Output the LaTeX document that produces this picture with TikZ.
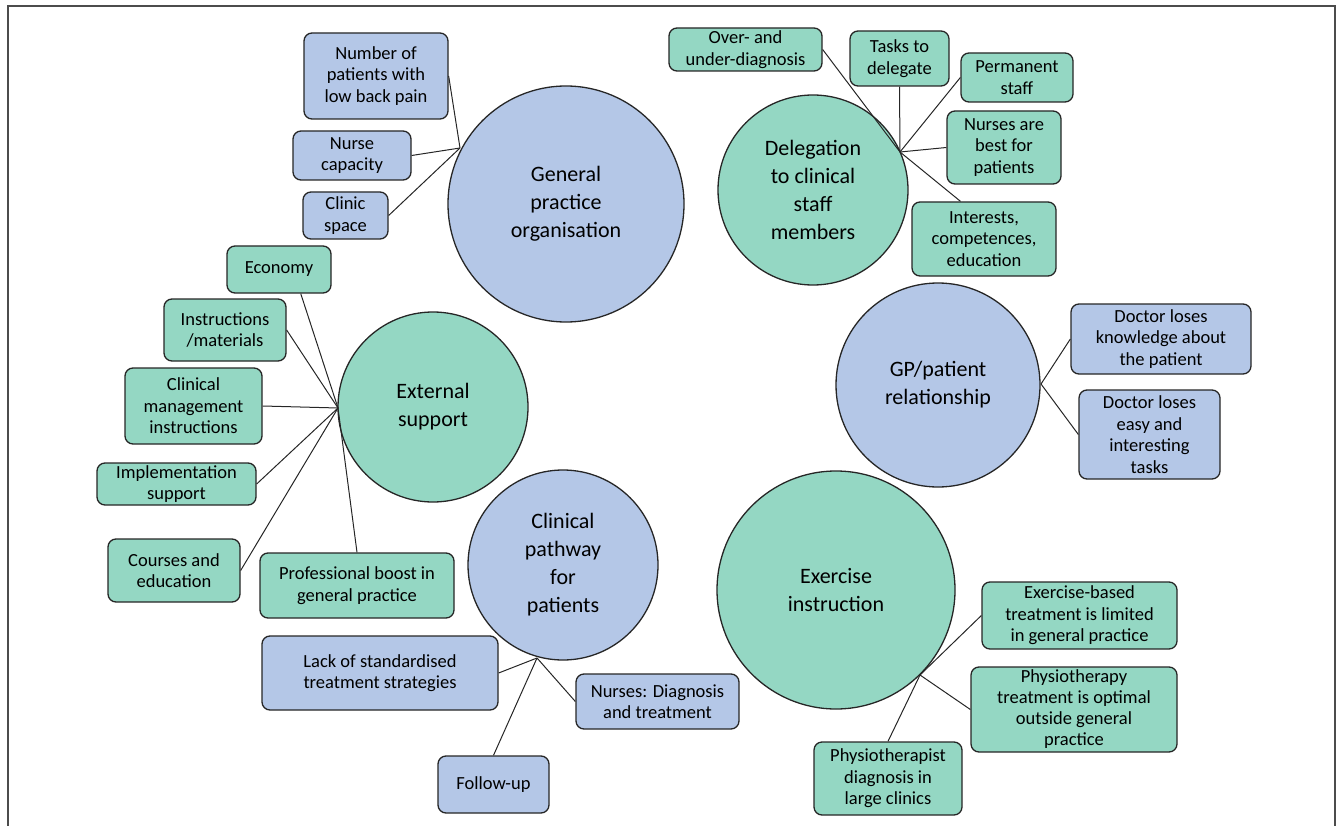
\documentclass[tikz,border=0pt]{standalone}
\usepackage{fontspec}
\setmainfont{Carlito}
\definecolor{topicblue}{HTML}{B4C7E7}
\definecolor{topicgreen}{HTML}{94D7C3}
\definecolor{edgegray}{HTML}{262626}

\begin{document}
\begin{tikzpicture}[x=1pt, y=-1pt,
    item/.style={draw=edgegray, line width=1.3pt, rounded corners=8pt, align=center, inner sep=1pt, font=\fontsize{18.5}{21.5}\selectfont},
    bitem/.style={item, fill=topicblue},
    gitem/.style={item, fill=topicgreen},
    topic/.style={draw=edgegray, line width=1.3pt, circle, align=center, inner sep=0pt, font=\fontsize{22}{28}\selectfont},
    btopic/.style={topic, fill=topicblue},
    gtopic/.style={topic, fill=topicgreen},
    link/.style={draw=edgegray, line width=1pt}
  ]
    \useasboundingbox (0,0) rectangle (1343,826);
    \draw[gray!60!black, line width=1.5pt] (8,826) -- (8,6) -- (1335,6) -- (1335,826);

    % topics
    \node[btopic, minimum size=236pt] (gpo) at (566,204) {General\\practice\\organisation};
    \node[gtopic, minimum size=190pt] (del) at (813,190) {Delegation\\to clinical\\staff\\members};
    \node[gtopic, minimum size=190pt] (ext) at (433,407) {External\\support};
    \node[btopic, minimum size=190pt] (path) at (563,565) {Clinical\\pathway\\for\\patients};
    \node[btopic, minimum size=204pt] (gp) at (938,385) {GP/patient\\relationship};
    \node[gtopic, minimum size=238pt] (exe) at (836,590) {Exercise\\instruction};

    % meeting points on the circles
    \coordinate (gpohub) at (460,148);
    \coordinate (delhub) at (900,152);
    \coordinate (exthub) at (338,408);
    \coordinate (pathhub) at (537,658);
    \coordinate (gphub) at (1041,384);
    \coordinate (exehub) at (920,675);

    % general practice organisation
    \node[bitem, minimum width=144pt, minimum height=86pt] (num) at (376,76) {Number of\\patients with\\low back pain};
    \node[bitem, minimum width=118pt, minimum height=49pt] (ncap) at (352,155.5) {Nurse\\capacity};
    \node[bitem, minimum width=85pt, minimum height=47pt] (space) at (345.5,215.5) {Clinic\\space};

    % delegation
    \node[gitem, minimum width=153pt, minimum height=43pt, inner sep=0pt] (over) at (745.5,49.5) {Over- and\\under-diagnosis};
    \node[gitem, minimum width=99pt, minimum height=55pt] (tasks) at (899.5,58.5) {Tasks to\\delegate};
    \node[gitem, minimum width=112pt, minimum height=49pt] (perm) at (1017,77.5) {Permanent\\staff};
    \node[gitem, minimum width=114pt, minimum height=73pt] (best) at (1004,147.5) {Nurses are\\best for\\patients};
    \node[gitem, minimum width=144pt, minimum height=74pt] (inter) at (984,239) {Interests,\\competences,\\education};

    % external support
    \node[gitem, minimum width=104pt, minimum height=47pt] (econ) at (279,269.5) {Economy};
    \node[gitem, minimum width=122pt, minimum height=62pt] (instr) at (225,330) {Instructions\\/materials};
    \node[gitem, minimum width=137pt, minimum height=76pt] (cmi) at (193.5,406) {Clinical\\management\\instructions};
    \node[gitem, minimum width=159pt, minimum height=42pt, inner sep=0pt] (impl) at (176.5,484) {Implementation\\support};
    \node[gitem, minimum width=132pt, minimum height=63pt] (course) at (174,570.5) {Courses and\\education};
    \node[gitem, minimum width=194pt, minimum height=65pt] (boost) at (357,585.5) {Professional boost in\\general practice};

    % clinical pathway
    \node[bitem, minimum width=236pt, minimum height=74pt] (lack) at (380,673) {Lack of standardised\\treatment strategies};
    \node[bitem, minimum width=163pt, minimum height=55pt] (nurdx) at (657.5,701.5) {Nurses: Diagnosis\\and treatment};
    \node[bitem, minimum width=111pt, minimum height=57pt] (follow) at (493.5,784.5) {Follow-up};

    % GP/patient relationship
    \node[bitem, minimum width=180pt, minimum height=70pt] (know) at (1161,339) {Doctor loses\\knowledge about\\the patient};
    \node[bitem, minimum width=141pt, minimum height=89pt, inner sep=0pt] (easy) at (1149.5,434.5) {Doctor loses\\easy and\\interesting\\tasks};

    % exercise instruction
    \node[gitem, minimum width=195pt, minimum height=67pt, inner sep=0pt] (exb) at (1079.5,615.5) {Exercise-based\\treatment is limited\\in general practice};
    \node[gitem, minimum width=206pt, minimum height=85pt, inner sep=0pt, font=\fontsize{18.5}{21}\selectfont] (phys) at (1074,709.5) {Physiotherapy\\treatment is optimal\\outside general\\practice};
    \node[gitem, minimum width=148pt, minimum height=73pt] (phdx) at (888,778.5) {Physiotherapist\\diagnosis in\\large clinics};

    % connectors
    \draw[link] (num.east) -- (gpohub);
    \draw[link] (ncap.east) -- (gpohub);
    \draw[link] (space.east) -- (gpohub);

    \draw[link] (over.east) -- (delhub);
    \draw[link] (tasks.south) -- (delhub);
    \draw[link] (perm.west) -- (delhub);
    \draw[link] (best.west) -- (delhub);
    \draw[link] (inter.122) -- (delhub);

    \draw[link] (econ.-48) -- (exthub);
    \draw[link] (instr.east) -- (exthub);
    \draw[link] (cmi.east) -- (exthub);
    \draw[link] (impl.east) -- (exthub);
    \draw[link] (course.east) -- (exthub);
    \draw[link] (boost.north) -- (exthub);

    \draw[link] (lack.east) -- (pathhub);
    \draw[link] (nurdx.west) -- (pathhub);
    \draw[link] (follow.north) -- (pathhub);

    \draw[link] (know.west) -- (gphub);
    \draw[link] (easy.west) -- (gphub);

    \draw[link] (exb.west) -- (exehub);
    \draw[link] (phys.west) -- (exehub);
    \draw[link] (phdx.north) -- (exehub);
  \end{tikzpicture}
\end{document}
